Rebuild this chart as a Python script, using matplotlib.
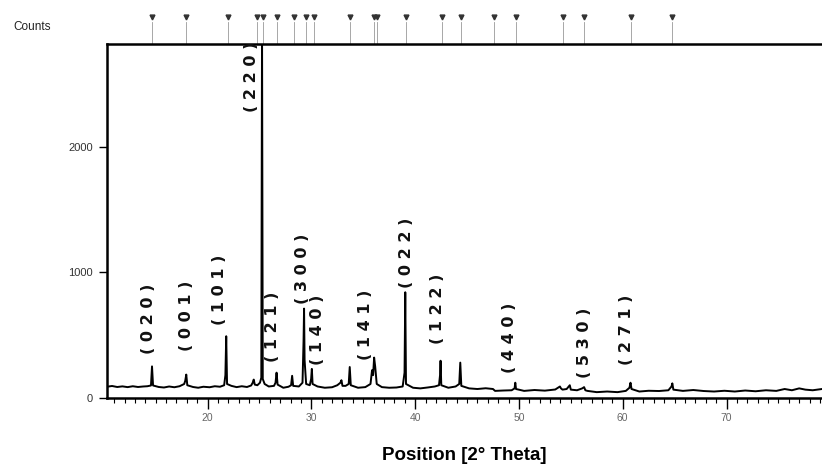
import matplotlib
matplotlib.use("Agg")
import matplotlib.pyplot as plt
from matplotlib.ticker import MultipleLocator
import matplotlib.transforms as mtransforms

plt.rcParams['font.family'] = ['Liberation Sans', 'DejaVu Sans']

# trace (2theta, counts)
two_theta = [10.3, 10.8, 11.3, 11.8, 12.3, 12.8, 13.3, 13.8, 14.2, 14.55, 14.65, 14.75, 15.3,
             15.8, 16.3, 16.8, 17.3, 17.75, 17.85, 17.95, 18.05, 18.6, 19.1, 19.6, 20.2,
             20.7, 21.2, 21.6, 21.72, 21.8, 21.88, 22.3, 22.8, 23.3, 23.8, 24.2, 24.35,
             24.45, 24.55, 24.8, 25.05, 25.18, 25.25, 25.32, 25.5, 25.9, 26.4, 26.55, 26.65,
             26.75, 27.3, 27.8, 28.05, 28.15, 28.25, 28.8, 29.15, 29.25, 29.3, 29.35, 29.5,
             29.85, 29.98, 30.05, 30.12, 30.6, 31.3, 32.0, 32.5, 32.8, 32.9, 33.0, 33.3,
             33.6, 33.7, 33.8, 34.5, 35.2, 35.7, 35.85, 35.95, 36.05, 36.15, 36.3, 36.8,
             37.5, 38.2, 38.8, 38.98, 39.05, 39.12, 39.8, 40.5, 41.2, 41.9, 42.3, 42.4,
             42.45, 42.52, 43.2, 43.9, 44.25, 44.35, 44.45, 45.2, 46.0, 46.8, 47.5, 47.7,
             48.5, 49.3, 49.58, 49.65, 49.72, 50.5, 51.5, 52.5, 53.5, 53.95, 54.05, 54.2,
             54.6, 54.8, 54.9, 55.0, 55.6, 56.1, 56.28, 56.4, 56.6, 57.5, 58.5, 59.5,
             60.3, 60.65, 60.75, 60.85, 61.6, 62.5, 63.5, 64.4, 64.7, 64.78, 64.88, 65.8,
             66.8, 67.8, 68.8, 69.8, 70.8, 71.8, 72.8, 73.8, 74.8, 75.6, 76.3, 77.0,
             77.6, 78.3, 79.2]
counts = [88, 94, 86, 91, 85, 92, 86, 90, 92, 98, 250, 98, 86,
          82, 90, 84, 92, 110, 135, 185, 100, 86, 80, 88, 84,
          92, 88, 100, 180, 490, 110, 95, 85, 92, 86, 98, 120,
          145, 105, 100, 120, 160, 2950, 150, 110, 90, 95, 120, 200,
          105, 80, 88, 100, 175, 95, 90, 120, 450, 710, 300, 110,
          100, 150, 230, 110, 90, 80, 84, 100, 120, 140, 95, 95,
          110, 245, 100, 80, 85, 110, 220, 180, 320, 250, 110, 85,
          80, 82, 90, 200, 840, 110, 80, 75, 82, 90, 100, 180,
          295, 100, 80, 90, 110, 280, 95, 75, 70, 76, 70, 55,
          58, 60, 75, 120, 70, 55, 62, 57, 66, 90, 75, 65,
          70, 90, 100, 65, 60, 75, 85, 60, 55, 45, 50, 45,
          55, 80, 120, 70, 50, 56, 54, 60, 90, 115, 65, 55,
          62, 54, 50, 56, 50, 58, 52, 60, 55, 70, 60, 75,
          65, 60, 70]

# reference pattern positions along the top
ref_pos = [14.67, 17.92, 21.97, 24.73, 25.37, 26.66, 28.32, 29.48, 30.25, 33.72,
           36.05, 36.35, 39.11, 42.55, 44.41, 47.62, 49.68, 54.21, 56.29, 60.76, 64.77]

# hand written indices
hkl_labels = ["(020)", "(001)", "(101)", "(220)", "(121)", "(300)", "(140)",
              "(141)", "(022)", "(122)", "(440)", "(530)", "(271)"]
hkl_x = [14.35, 17.99, 21.2, 24.25, 26.3, 29.15, 30.64, 35.26, 39.2, 42.2, 49.13, 56.36, 60.4]
hkl_y = [628, 652, 859, 2554, 565, 1026, 541, 581, 1153, 708, 477, 437, 541]

fig = plt.figure(figsize=(8.22, 4.68), dpi=100)
ax = fig.add_axes([0.130, 0.150, 0.870, 0.756])

ax.plot(two_theta, counts, color='black', lw=1.4)
ax.set_xlim(10.3, 79.2)
ax.set_ylim(0, 2816)

for s in ['left', 'top', 'bottom']:
    ax.spines[s].set_linewidth(1.8)
ax.spines['right'].set_visible(False)

ax.set_yticks([0, 1000, 2000])
ax.xaxis.set_minor_locator(MultipleLocator(1))
ax.set_xticks([20, 30, 40, 50, 60, 70])
ax.tick_params(axis='y', direction='out', length=6, width=1, labelsize=8,
               labelcolor='#333333', pad=4)
ax.tick_params(axis='x', which='major', direction='out', length=8, width=1,
               labelsize=7.5, labelcolor='#666666', pad=3)
ax.tick_params(axis='x', which='minor', direction='out', length=3.5, width=0.8)

ax.set_xlabel("Position [2° Theta]", fontsize=13.5, fontweight='bold', labelpad=17)
fig.text(0.016, 0.942, "Counts", fontsize=8.5, color='#222222', va='center')

# reference markers above the frame
trans = mtransforms.blended_transform_factory(ax.transData, ax.transAxes)
for p in ref_pos:
    ax.plot([p, p], [1.0, 1.062], transform=trans, color='#999999', lw=0.6, clip_on=False)
    ax.plot([p], [1.076], transform=trans, marker='v', ms=3.5, color='#333333',
            linestyle='none', clip_on=False)

for lab, x, y in zip(hkl_labels, hkl_x, hkl_y):
    spaced = " ".join(lab)
    ax.text(x, y, spaced, rotation=90, ha='center', va='center', fontsize=11.5,
            fontweight='bold', family='DejaVu Sans', color='#111111')

fig.savefig("out.png", dpi=100)
